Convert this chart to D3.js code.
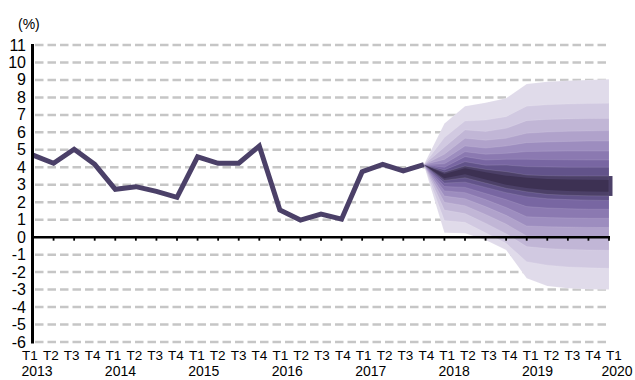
<!DOCTYPE html>
<html><head><meta charset="utf-8">
<script src="https://cdn.jsdelivr.net/npm/d3@7"></script>
<style>body{margin:0;background:#fff}svg{display:block}</style>
</head><body><svg id="c" width="635" height="380"></svg>
<script>
// ---- data ----
const quarterLabels = ["T1","T2","T3","T4","T1","T2","T3","T4","T1","T2","T3","T4","T1","T2","T3","T4",
  "T1","T2","T3","T4","T1","T2","T3","T4","T1","T2","T3","T4","T1"];
const yearLabels = ["2013","2014","2015","2016","2017","2018","2019","2020"];
const yearIndex = [0,4,8,12,16,20,24,28];
const yTickValues = [-6,-5,-4,-3,-2,-1,0,1,2,3,4,5,6,7,8,9,10,11];
const history = [4.7,4.23,5.03,4.17,2.74,2.89,2.62,2.28,4.6,4.23,4.23,5.22,1.56,0.98,1.32,1.03,3.75,4.17,3.8,4.15];
const fanStart = 19; // T4 2017
// upper edges, innermost (k0) to outermost (k9), per quarter T4 2017 .. T1 2020
const fanUpper = [
  [4.15,3.62,3.94,3.72,3.52,3.40,3.33,3.30,3.28,3.27],
  [4.15,3.72,4.07,3.88,3.75,3.56,3.52,3.50,3.50,3.50],
  [4.15,3.85,4.32,4.12,4.13,4.04,4.02,4.00,4.00,4.00],
  [4.15,4.00,4.61,4.42,4.46,4.46,4.44,4.43,4.42,4.42],
  [4.15,4.20,4.89,4.75,4.80,4.90,4.92,4.93,4.93,4.93],
  [4.15,4.45,5.22,5.10,5.22,5.41,5.45,5.48,5.50,5.50],
  [4.15,4.75,5.66,5.55,5.66,5.95,6.02,6.06,6.08,6.10],
  [4.15,5.15,6.14,6.05,6.23,6.67,6.74,6.77,6.79,6.80],
  [4.15,5.70,6.65,6.70,6.90,7.50,7.58,7.62,7.65,7.66],
  [4.15,6.50,7.50,7.70,7.95,8.77,8.90,8.96,9.00,9.04]
];
const fanLower = [
  [4.15,3.38,3.60,3.30,3.00,2.82,2.70,2.65,2.62,2.60],
  [4.15,3.25,3.40,3.10,2.80,2.60,2.45,2.40,2.37,2.36],
  [4.15,3.10,3.15,2.85,2.55,2.32,2.20,2.15,2.12,2.10],
  [4.15,2.90,2.85,2.50,2.15,1.75,1.67,1.63,1.60,1.60],
  [4.15,2.65,2.55,2.15,1.70,1.17,1.12,1.10,1.08,1.08],
  [4.15,2.35,2.20,1.75,1.25,0.64,0.60,0.58,0.56,0.55],
  [4.15,2.00,1.80,1.30,0.75,0.07,0.03,0.01,0.00,0.00],
  [4.15,1.55,1.35,0.80,0.20,-0.54,-0.65,-0.70,-0.73,-0.75],
  [4.15,0.95,0.85,0.25,-0.35,-1.40,-1.60,-1.70,-1.75,-1.78],
  [4.15,0.26,0.22,-0.16,-0.73,-2.35,-2.80,-2.93,-2.98,-3.00]
];
const bandColors = ["#3d3153","#4c4068","#62538a","#7866a2","#8b79b1","#9d8dbf","#b0a2cb","#c1b6d6","#d1c9e1","#e0dbea"];
const lineColor = "#4b4068";

// ---- chart ----
const svg = d3.select("#c");
const x = d3.scaleLinear().domain([0,28]).range([33,609]);
const xl = d3.scaleLinear().domain([0,28]).range([30,614]);
const y = d3.scaleLinear().domain([-6,11]).range([342,45]);
const font = "'Liberation Sans', Arial, sans-serif";

// gridlines
svg.append("g").selectAll("line").data(yTickValues.filter(v=>v!==0)).join("line")
  .attr("x1", x(0)+2).attr("x2", x(28)).attr("y1", d=>y(d)).attr("y2", d=>y(d))
  .attr("stroke","#c6c6c6").attr("stroke-width",2.5).attr("stroke-dasharray","8.5,4");

// fan (nested areas, outermost first)
const qIdx = d3.range(fanUpper[0].length);
for (let k = fanUpper.length-1; k >= 0; k--) {
  const area = d3.area()
    .x(i => x(fanStart+i))
    .y0(i => y(fanLower[k][i]))
    .y1(i => y(fanUpper[k][i]));
  svg.append("path").datum(qIdx).attr("d", area).attr("fill", bandColors[k])
    .attr("stroke", k>0 ? "rgba(255,255,255,0.18)" : "none").attr("stroke-width",0.6);
}
// end cap of central band
svg.append("line").attr("x1", x(28)+1.5).attr("x2", x(28)+1.5)
  .attr("y1", y(fanUpper[1][9])).attr("y2", y(fanLower[1][9]))
  .attr("stroke", bandColors[1]).attr("stroke-width",4);

// history line
const line = d3.line().x((d,i)=>x(i)).y(d=>y(d));
svg.append("path").datum(history).attr("d", line).attr("fill","none")
  .attr("stroke", lineColor).attr("stroke-width",5).attr("stroke-linejoin","miter");

// zero axis + ticks
svg.append("line").attr("x1", x(0)).attr("x2", x(28)+1).attr("y1", y(0)).attr("y2", y(0))
  .attr("stroke","#000").attr("stroke-width",2.5);
svg.append("g").selectAll("line").data(d3.range(0,29)).join("line")
  .attr("x1", d=>x(d)).attr("x2", d=>x(d)).attr("y1", y(0)).attr("y2", y(0)+3.5)
  .attr("stroke","#000").attr("stroke-width",1.8);

// y axis
svg.append("line").attr("x1", 32.5).attr("x2", 32.5).attr("y1", y(11)-1).attr("y2", y(-6)+1.5)
  .attr("stroke","#000").attr("stroke-width",3);

// y labels
svg.append("g").selectAll("text").data(yTickValues).join("text")
  .attr("x", 26).attr("y", d=>y(d)+5.5).attr("text-anchor","end")
  .attr("font-family", font).attr("font-size", 16).attr("fill","#000")
  .text(d=>d);

svg.append("text").attr("x", 18).attr("y", 29).attr("font-family", font).attr("font-size", 14)
  .text("(%)");

// x labels
svg.append("g").selectAll("text").data(quarterLabels).join("text")
  .attr("x", (d,i)=>xl(i)).attr("y", 360).attr("text-anchor","middle")
  .attr("font-family", font).attr("font-size", 13.5).attr("fill","#000")
  .text(d=>d);
svg.append("g").selectAll("text").data(yearLabels).join("text")
  .attr("x", (d,i)=>Math.min(xl(yearIndex[i])+7, 617)).attr("y", 376).attr("text-anchor","middle")
  .attr("font-family", font).attr("font-size", 14).attr("fill","#000")
  .text(d=>d);
</script></body></html>
